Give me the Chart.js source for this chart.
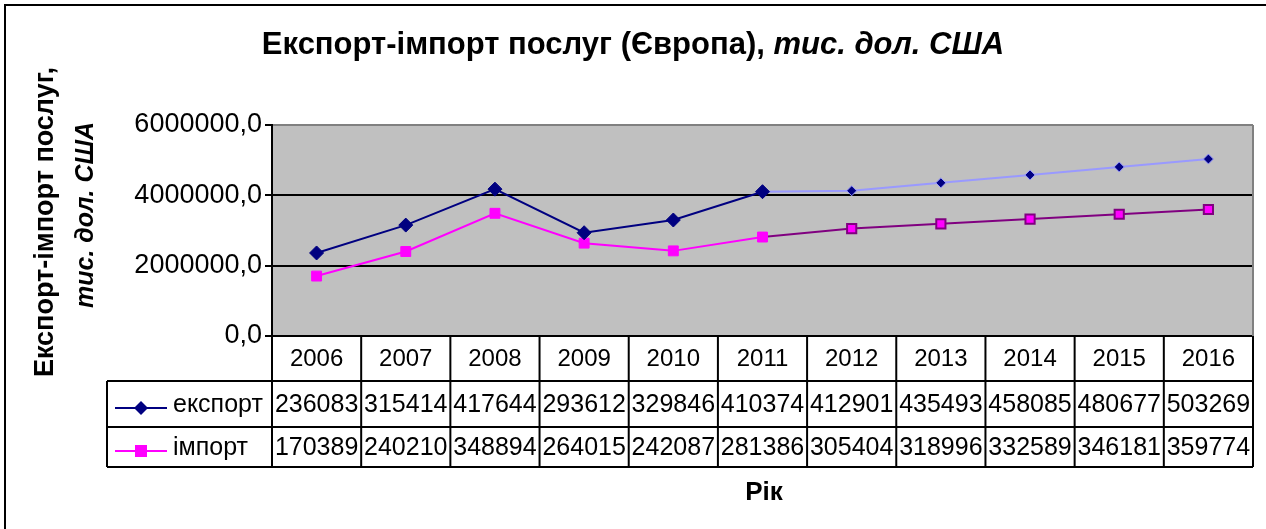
<!DOCTYPE html>
<html>
<head>
<meta charset="utf-8">
<script src="https://cdn.jsdelivr.net/npm/chart.js@4/dist/chart.umd.min.js"></script>
<style>
  body { margin: 0; background: #fff; }
  #wrap { width: 1266px; height: 529px; }
</style>
</head>
<body>
<div id="wrap"><canvas id="myChart" width="1266" height="529"></canvas></div>
<script>
const years = ["2006", "2007", "2008", "2009", "2010", "2011", "2012", "2013", "2014", "2015", "2016"];
const exportValues = [2360830, 3154140, 4176440, 2936120, 3298460, 4103740, 4129010, 4354930, 4580850, 4806770, 5032690];
const importValues = [1703890, 2402100, 3488940, 2640150, 2420870, 2813860, 3054040, 3189960, 3325890, 3461810, 3597740];
// what the data table under the chart shows
const exportTable = ["236083", "315414", "417644", "293612", "329846", "410374", "412901", "435493", "458085", "480677", "503269"];
const importTable = ["170389", "240210", "348894", "264015", "242087", "281386", "305404", "318996", "332589", "346181", "359774"];
const yTicks = [0, 2000000, 4000000, 6000000];

const FONT = '"Liberation Sans", Arial, sans-serif';
const lastFact = 5; // 2011, after that the lines change colour

const pick = (a, b) => years.map((y, i) => (i <= lastFact ? a : b));

const framePlugin = {
  id: "frame",
  beforeDraw(chart) {
    const { ctx, chartArea: a } = chart;
    ctx.save();
    ctx.fillStyle = "#fff";
    ctx.fillRect(0, 0, chart.width, chart.height);
    ctx.fillStyle = "#C0C0C0";
    ctx.fillRect(a.left, a.top, a.right - a.left, a.bottom - a.top);
    // outer frame
    ctx.strokeStyle = "#000";
    ctx.lineWidth = 2;
    ctx.beginPath();
    ctx.moveTo(5, chart.height);
    ctx.lineTo(5, 5);
    ctx.lineTo(chart.width, 5);
    ctx.stroke();
    ctx.restore();
  },
  afterDraw(chart) {
    const { ctx, chartArea: a } = chart;
    const x = chart.scales.x;
    const w = (a.right - a.left) / years.length;
    const r1 = a.bottom, r2 = 381, r3 = 427, r4 = 467, legL = 107;
    ctx.save();

    // right edge of plot area
    ctx.strokeStyle = "#808080";
    ctx.lineWidth = 2;
    ctx.beginPath();
    ctx.moveTo(a.right, a.top);
    ctx.lineTo(a.right, a.bottom);
    ctx.stroke();

    // data table grid
    ctx.strokeStyle = "#000";
    ctx.lineWidth = 2;
    ctx.beginPath();
    for (let i = 0; i <= years.length; i++) {
      const xx = a.left + i * w;
      ctx.moveTo(xx, r1);
      ctx.lineTo(xx, r4);
    }
    ctx.moveTo(legL, r2); ctx.lineTo(legL, r4);
    [r2, r3, r4].forEach((yy) => { ctx.moveTo(legL, yy); ctx.lineTo(a.right, yy); });
    ctx.stroke();

    ctx.fillStyle = "#000";
    ctx.textAlign = "center";
    ctx.textBaseline = "middle";
    years.forEach((y, i) => {
      const cx = x.getPixelForValue(i);
      ctx.font = "24px " + FONT;
      ctx.fillText(y, cx, (r1 + r2) / 2 + 1);
      ctx.font = "25px " + FONT;
      ctx.fillText(exportTable[i], cx, (r2 + r3) / 2 + 1);
      ctx.fillText(importTable[i], cx, (r3 + r4) / 2 + 1);
    });

    // legend keys
    const keys = [
      { y: (r2 + r3) / 2 + 4, color: "#000080", label: "експорт", style: "diamond" },
      { y: (r3 + r4) / 2 + 4, color: "#FF00FF", label: "імпорт", style: "square" },
    ];
    ctx.font = "25px " + FONT;
    keys.forEach((k) => {
      ctx.strokeStyle = k.color;
      ctx.lineWidth = 2;
      ctx.beginPath();
      ctx.moveTo(115, k.y); ctx.lineTo(167, k.y);
      ctx.stroke();
      ctx.fillStyle = k.color;
      ctx.beginPath();
      if (k.style === "diamond") {
        ctx.moveTo(141, k.y - 7); ctx.lineTo(148, k.y); ctx.lineTo(141, k.y + 7); ctx.lineTo(134, k.y);
        ctx.closePath();
      } else {
        ctx.rect(135, k.y - 6, 12, 12);
      }
      ctx.fill();
      ctx.fillStyle = "#000";
      ctx.textAlign = "left";
      ctx.fillText(k.label, 173, k.y - 3);
    });

    // titles
    const t1 = "Експорт-імпорт послуг (Європа), ";
    const t2 = "тис. дол. США";
    const f1 = "bold 31px " + FONT, f2 = "italic bold 31px " + FONT;
    ctx.font = f1; const w1 = ctx.measureText(t1).width;
    ctx.font = f2; const w2 = ctx.measureText(t2).width;
    let tx = 633 - (w1 + w2) / 2;
    ctx.textAlign = "left";
    ctx.font = f1; ctx.fillText(t1, tx, 45);
    ctx.font = f2; ctx.fillText(t2, tx + w1, 45);

    ctx.font = "bold 26px " + FONT;
    ctx.textAlign = "center";
    ctx.fillText("Рік", 764, 493);

    ctx.save();
    ctx.translate(46, 222);
    ctx.rotate(-Math.PI / 2);
    ctx.font = "bold 27px " + FONT;
    ctx.fillText("Експорт-імпорт послуг,", 0, 0);
    ctx.restore();
    ctx.save();
    ctx.translate(86, 215);
    ctx.rotate(-Math.PI / 2);
    ctx.font = "italic bold 25px " + FONT;
    ctx.fillText("тис. дол. США", 0, 0);
    ctx.restore();

    ctx.restore();
  },
};

new Chart("myChart", {
  type: "line",
  data: {
    labels: years,
    datasets: [
      {
        label: "експорт",
        data: exportValues,
        borderWidth: 2,
        segment: { borderColor: (c) => (c.p0DataIndex < lastFact ? "#000080" : "#9999FF") },
        borderColor: "#000080",
        pointStyle: "rectRot",
        pointRadius: pick(7, 5),
        pointBackgroundColor: "#000080",
        pointBorderColor: pick("#000080", "#9999FF"),
        pointBorderWidth: 1,
        tension: 0,
      },
      {
        label: "імпорт",
        data: importValues,
        borderWidth: 2,
        segment: { borderColor: (c) => (c.p0DataIndex < lastFact ? "#FF00FF" : "#800080") },
        borderColor: "#FF00FF",
        pointStyle: "rect",
        pointRadius: pick(7, 6.5),
        pointBackgroundColor: "#FF00FF",
        pointBorderColor: pick("#FF00FF", "#800080"),
        pointBorderWidth: pick(1, 2),
        tension: 0,
      },
    ],
  },
  options: {
    responsive: false,
    animation: false,
    layout: { padding: { left: 0, right: 13, top: 125, bottom: 0 } },
    plugins: { legend: { display: false }, tooltip: { enabled: false }, title: { display: false } },
    scales: {
      x: {
        offset: true,
        ticks: { display: false },
        grid: { display: false },
        border: { display: false },
        afterFit: (s) => { s.height = 193; },
      },
      y: {
        min: 0,
        max: 6000000,
        afterBuildTicks: (s) => { s.ticks = yTicks.map((v) => ({ value: v })); },
        afterFit: (s) => { s.width = 272; },
        ticks: {
          color: "#000",
          font: { family: FONT, size: 27 },
          padding: 3,
          callback: (v) => v.toFixed(1).replace(".", ","),
        },
        grid: {
          color: (c) => (c.tick && c.tick.value === 6000000 ? "#808080" : "#000"),
          tickColor: "#000",
          lineWidth: 2,
          tickLength: 7,
        },
        border: { color: "#000", width: 2 },
      },
    },
  },
  plugins: [framePlugin],
});
</script>
</body>
</html>
